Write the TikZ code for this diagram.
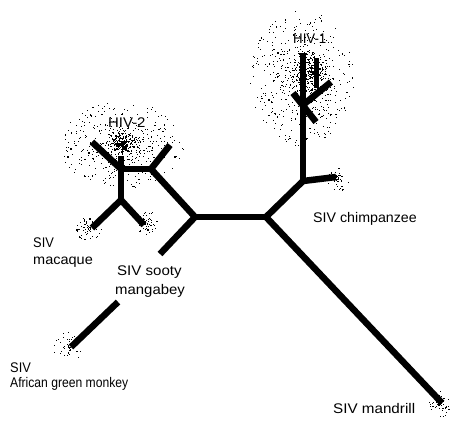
\documentclass[tikz,border=0pt]{standalone}
\usepackage{fontspec}
\setmainfont{Liberation Sans}
\newcommand\specklecloud[5]{%
  \foreach \i in {1,...,#5}{%
    \pgfmathsetmacro\sang{360*rnd}%
    \pgfmathsetmacro\srad{rnd}%
    \pgfmathsetmacro\spx{#1+#3*\srad*cos(\sang)}%
    \pgfmathsetmacro\spy{#2+#4*\srad*sin(\sang)}%
    \pgfmathsetmacro\ssz{0.5+0.8*rnd}%
    \fill[black] (\spx,\spy) rectangle ++(\ssz,\ssz);
  }}
\begin{document}
\begin{tikzpicture}[x=1bp,y=-1bp,
  branch/.style={line width=6.5bp},
  lbl/.style={font=\fontsize{14}{17}\selectfont, inner sep=0pt, anchor=base west}]
\useasboundingbox (0,0) rectangle (450,421);
\pgfmathsetseed{7}
% speckle clouds
\specklecloud{302}{78}{52}{68}{600}
\specklecloud{312}{72}{18}{22}{220}
\specklecloud{122}{145}{62}{44}{480}
\specklecloud{124}{142}{18}{10}{200}
\specklecloud{88}{228}{13}{12}{60}
\specklecloud{145}{222}{13}{13}{60}
\specklecloud{338}{178}{12}{14}{50}
\specklecloud{68}{346}{15}{16}{50}
\specklecloud{440}{404}{13}{13}{50}
% tree coordinates
\coordinate (A) at (195,217);
\coordinate (B) at (266,217);
\coordinate (mand) at (442,403);
\coordinate (CJ) at (303,181);
\coordinate (chimp) at (336,177);
\coordinate (K) at (303,105);
\coordinate (h1top) at (303,53);
\coordinate (k1) at (293,93);
\coordinate (k2) at (331,82);
\coordinate (k3) at (316,122);
\coordinate (blobA) at (316,58);
\coordinate (blobB) at (316,88);
\coordinate (sooty) at (160,254);
\coordinate (agmA) at (118,302);
\coordinate (agm) at (71,347);
\coordinate (H2a) at (151,169);
\coordinate (h2ur) at (170,145);
\coordinate (H2b) at (121,169);
\coordinate (h2ul) at (92,142);
\coordinate (h2st) at (121,156);
\coordinate (H2c) at (121,200);
\coordinate (mac1) at (92,228);
\coordinate (mac2) at (144,225);
% branches
\draw[branch] (A) -- (B);
\draw[branch] (B) -- (mand);
\draw[branch] (B) -- (CJ);
\draw[branch] (CJ) -- (chimp);
\draw[branch] (CJ) -- (K);
\draw[branch] (K) -- (h1top);
\draw[branch] (k1) -- (k3);
\draw[branch] (K) -- (k2);
\draw[line width=5bp] (blobA) -- (blobB);
\draw[branch] (A) -- (sooty);
\draw[branch] (agmA) -- (agm);
\draw[branch] (A) -- (H2a);
\draw[branch] (H2a) -- (h2ur);
\draw[branch] (H2a) -- (H2b);
\draw[branch] (H2b) -- (h2ul);
\draw[branch] (h2st) -- (H2c);
\draw[branch] (H2c) -- (mac1);
\draw[branch] (H2c) -- (mac2);
\foreach \j in {A,B,CJ,K,H2a,H2b,H2c} \fill (\j) circle (3.25bp);
% labels
\node[lbl] (hiv1) at (293,43) {\scalebox{0.95}[1]{HIV-1}};
\node[lbl] (hiv2) at (108,127) {\scalebox{1.07}[1]{HIV-2}};
\node[lbl] (mac) at (33,247) {\scalebox{0.92}[1]{SIV}};
\node[lbl] (macb) at (33,264) {\scalebox{1.04}[1]{macaque}};
\node[lbl] (soot) at (117,275) {\scalebox{1.08}[1]{SIV sooty}};
\node[lbl] (sootb) at (115,294) {\scalebox{1.07}[1]{mangabey}};
\node[lbl] (agml) at (10,372) {\scalebox{0.92}[1]{SIV}};
\node[lbl] (agmb) at (10,387) {\scalebox{0.87}[1]{African green monkey}};
\node[lbl] (chimpl) at (313,222) {\scalebox{1.02}[1]{SIV chimpanzee}};
\node[lbl] (mandl) at (333,413) {\scalebox{1.09}[1]{SIV mandrill}};
\end{tikzpicture}
\end{document}
